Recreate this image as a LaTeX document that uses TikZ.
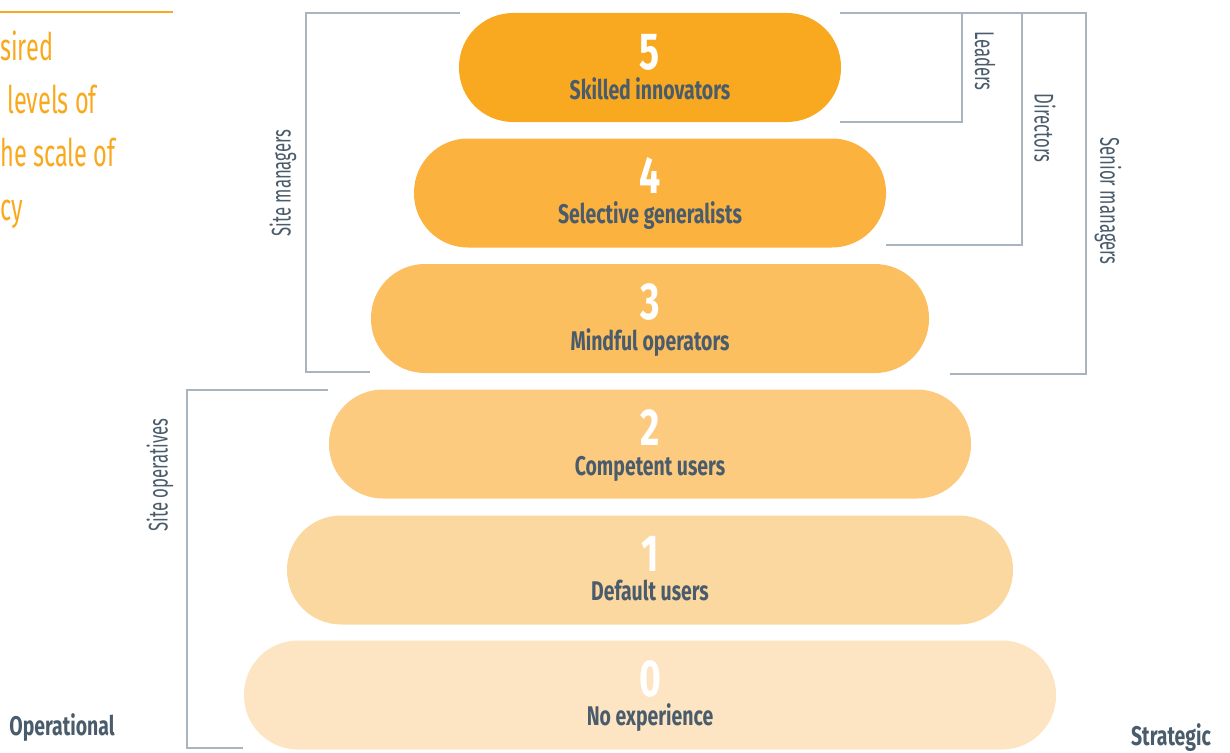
\documentclass[tikz,border=0pt]{standalone}
\usepackage{fontspec}
\setmainfont{Fira Sans}
\newfontfamily\cond[FakeStretch=0.72]{Fira Sans}
\newfontfamily\condl[FakeStretch=0.62]{Fira Sans}
\definecolor{slate}{HTML}{4A5C6B}
\definecolor{brk}{HTML}{A8B5C1}
\definecolor{orng}{HTML}{F9A91E}
\definecolor{c5}{HTML}{F9A91F}
\definecolor{c4}{HTML}{FBB23E}
\definecolor{c3}{HTML}{FCBF60}
\definecolor{c2}{HTML}{FCCB80}
\definecolor{c1}{HTML}{FCD8A1}
\definecolor{c0}{HTML}{FDE4C3}
\tikzset{
  pill/.style={draw=none, rounded corners=54pt, minimum height=109pt, inner sep=0pt},
  digit/.style={text=white, font=\cond\bfseries\fontsize{52}{52}\selectfont, inner sep=0pt, anchor=base, text depth=0pt, text height=36pt},
  lbl/.style={text=slate, font=\cond\bfseries\fontsize{27}{27}\selectfont, inner sep=0pt, anchor=base, text height=19pt, text depth=5pt},
  bracket/.style={draw=brk, line width=2pt},
  side/.style={text=slate, font=\condl\fontsize{27}{27}\selectfont, inner sep=0pt},
  title/.style={text=orng, font=\condl\fontsize{38}{38}\selectfont, inner sep=0pt, anchor=base west},
  axis/.style={text=slate, font=\cond\bfseries\fontsize{27}{27}\selectfont, inner sep=0pt}
}
\begin{document}
\begin{tikzpicture}[x=1pt,y=-1pt]
\useasboundingbox (0,0) rectangle (1230,752);
% pills
\node[pill, fill=c5, minimum width=382pt] (p5) at (650,67.5) {};
\node[pill, fill=c4, minimum width=472pt] (p4) at (650,193) {};
\node[pill, fill=c3, minimum width=558pt] (p3) at (650,318.5) {};
\node[pill, fill=c2, minimum width=642pt] (p2) at (650,444) {};
\node[pill, fill=c1, minimum width=726pt] (p1) at (650,570) {};
\node[pill, fill=c0, minimum width=812pt] (p0) at (650,695) {};
% texts
\node[digit] (d5) at (650,69) {5};
\node[lbl] (l5) at (650,99) {Skilled innovators};
\node[digit] (d4) at (650,193) {4};
\node[lbl] (l4) at (650,223) {Selective generalists};
\node[digit] (d3) at (650,319) {3};
\node[lbl] (l3) at (650,350) {Mindful operators};
\node[digit] (d2) at (650,445) {2};
\node[lbl] (l2) at (650,475) {Competent users};
\node[digit] (d1) at (650,571) {1};
\node[lbl] (l1) at (650,600) {Default users};
\node[digit] (d0) at (650,696) {0};
\node[lbl] (l0) at (650,725) {No experience};
% brackets
\draw[bracket] (460,13) -- (306,13) -- (306,372) -- (370,372);
\draw[bracket] (328,390) -- (187,390) -- (187,748) -- (243,748);
\draw[bracket] (840,13) -- (1086,13) -- (1086,374) -- (950,374);
\draw[bracket] (962,13) -- (962,122) -- (840,122);
\draw[bracket] (1022,13) -- (1022,245) -- (886,245);
% side labels
\node[side, rotate=90] (sm) at (283,183) {Site managers};
\node[side, rotate=90] (so) at (160,475) {Site operatives};
\node[side, rotate=-90] (ld) at (985,61) {Leaders};
\node[side, rotate=-90] (dr) at (1045,128) {Directors};
\node[side, rotate=-90] (sn) at (1108,201) {Senior managers};
% axis labels
\node[axis] (op) at (62,728) {Operational};
\node[axis] (st) at (1171,738) {Strategic};
% title
\draw[draw=orng, line width=2.5pt] (0,12) -- (173,12);
\node[title] (t1) at (0,60) {sired};
\node[title] (t2) at (7,113) {levels of};
\node[title] (t3) at (0,166) {he scale of};
\node[title] (t4) at (0,220) {cy};
\end{tikzpicture}
\end{document}
